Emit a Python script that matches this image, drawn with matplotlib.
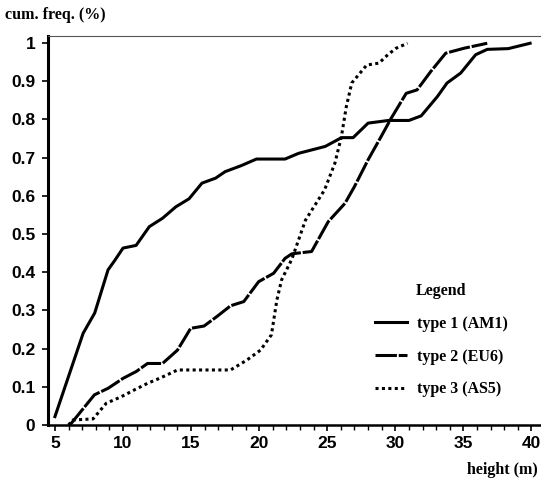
import matplotlib.pyplot as plt

# cumulative frequency curves
h1 = [5, 7.07, 7.92, 8.9, 9.38, 10.0, 10.96, 11.93, 12.9, 13.88, 14.85, 15.8, 16.8, 17.5, 18.7, 19.8,
      21.9, 22.9, 24.85, 26.05, 26.9, 28.0, 29.5, 31.0, 31.9, 33.1, 33.8, 34.8, 35.9, 36.75, 38.3, 39.9]
f1 = [0.022, 0.24, 0.293, 0.406, 0.43, 0.463, 0.47, 0.519, 0.541, 0.571, 0.592, 0.633, 0.646, 0.663, 0.679, 0.696,
      0.696, 0.711, 0.729, 0.752, 0.752, 0.79, 0.797, 0.797, 0.809, 0.86, 0.895, 0.921, 0.969, 0.983, 0.985, 0.999]

h2 = [6.1, 7.9, 8.9, 10.0, 10.97, 11.8, 12.9, 14.0, 14.97, 15.95, 16.9, 17.9, 18.87, 19.96, 21.06, 21.9,
      22.4, 23.85, 25.07, 26.3, 27.0, 28.0, 28.96, 29.7, 30.8, 31.6, 32.6, 33.7, 35.05, 36.75]
f2 = [0.0, 0.079, 0.096, 0.122, 0.14, 0.161, 0.161, 0.196, 0.253, 0.259, 0.284, 0.312, 0.323, 0.375, 0.397, 0.436,
      0.448, 0.454, 0.532, 0.58, 0.624, 0.694, 0.755, 0.803, 0.868, 0.877, 0.925, 0.973, 0.986, 0.999]

h3 = [6.0, 6.3, 7.8, 8.77, 9.87, 10.84, 11.8, 12.8, 14.0, 17.9, 19.1, 20.1, 20.9, 21.3, 21.65, 22.4,
      23.4, 24.8, 25.56, 26.04, 26.4, 26.8, 27.9, 28.8, 29.45, 30.06, 30.9]
f3 = [0.0, 0.013, 0.016, 0.057, 0.074, 0.092, 0.109, 0.124, 0.144, 0.144, 0.17, 0.196, 0.236, 0.327, 0.38, 0.434,
      0.536, 0.615, 0.685, 0.755, 0.833, 0.895, 0.942, 0.947, 0.969, 0.986, 0.999]

labels = ["type 1 (AM1)", "type 2 (EU6)", "type 3 (AS5)"]
xticks = [5, 10, 15, 20, 25, 30, 35, 40]
yticks = [0, 0.1, 0.2, 0.3, 0.4, 0.5, 0.6, 0.7, 0.8, 0.9, 1]
ytick_labels = ["0", "0.1", "0.2", "0.3", "0.4", "0.5", "0.6", "0.7", "0.8", "0.9", "1"]

serif = {"family": "Liberation Serif", "weight": "bold", "size": 11.5}

fig = plt.figure(figsize=(5.41, 4.87), dpi=100)
ax = fig.add_axes([48 / 541, 62 / 487, 1 - 48 / 541, 389 / 487])

ax.plot(h1, f1, color="black", lw=2.2, ls="-", label=labels[0])
ax.plot(h2, f2, color="black", lw=2.2, ls=(0, (7, 0.6)), label=labels[1])
ax.plot(h3, f3, color="black", lw=2.2, ls=(0, (1, 1.1)), label=labels[2])

ax.set_xlim(4.49, 40.7)
ax.set_ylim(0, 1.018)
ax.set_xticks(xticks)
ax.set_xticks(range(5, 41), minor=True)
ax.set_yticks(yticks)
ax.set_yticklabels(ytick_labels)

for lab in ax.get_xticklabels() + ax.get_yticklabels():
    lab.set_fontfamily("Liberation Sans")
    lab.set_fontweight("bold")
    lab.set_fontsize(12.5)

ax.tick_params(axis="both", which="both", direction="out", length=4, width=1.2, color="black")
ax.tick_params(axis="x", which="minor", length=3.5, width=1)
ax.tick_params(axis="y", pad=5)
ax.tick_params(axis="x", pad=4)

ax.spines["left"].set_linewidth(2.2)
ax.spines["bottom"].set_linewidth(1.8)
ax.spines["top"].set_linewidth(0.8)
ax.spines["top"].set_color("#555555")
ax.spines["right"].set_visible(False)

fig.text(5 / 541, 1 - 15 / 487, "cum. freq. (%)", fontdict=serif, va="center", ha="left")
fig.text(538 / 541, 1 - 470 / 487, "height (m)", fontdict=serif, va="center", ha="right")

leg = ax.legend(loc="upper left", bbox_to_anchor=(375 / 541, 1 - 283 / 487),
                bbox_transform=fig.transFigure, frameon=False, title="Legend",
                prop=serif, title_fontproperties=serif, borderpad=0, borderaxespad=0,
                handlelength=2.0, handletextpad=0.6, labelspacing=1.05)

fig.savefig("out.png", dpi=100)
